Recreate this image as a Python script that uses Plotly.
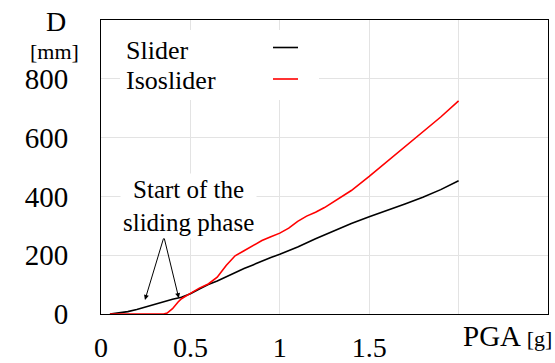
import plotly.graph_objects as go

# ---- data ----
slider_x = [0.05, 0.1, 0.15, 0.2, 0.25, 0.3, 0.35, 0.4, 0.45, 0.5, 0.55, 0.6, 0.65, 0.7,
            0.75, 0.8, 0.85, 0.9, 0.95, 1.0, 1.1, 1.2, 1.3, 1.4, 1.5, 1.6, 1.7, 1.8, 1.9, 2.0]
slider_y = [0, 3, 8, 15, 24, 33, 42, 50, 57, 69, 85, 100, 112, 127,
            142, 155, 167, 180, 192, 203, 228, 256, 283, 308, 331, 352, 374, 397, 423, 453]

iso_x = [0.05, 0.1, 0.2, 0.3, 0.35, 0.37, 0.4, 0.43, 0.45, 0.5, 0.55, 0.6, 0.65, 0.7,
         0.75, 0.8, 0.85, 0.9, 0.95, 1.0, 1.05, 1.1, 1.15, 1.2, 1.25, 1.3, 1.4, 1.5,
         1.6, 1.7, 1.8, 1.9, 2.0]
iso_y = [0, 0, 0, 0, 0, 3, 18, 40, 52, 70, 88, 102, 125, 165,
         198, 215, 233, 250, 263, 275, 292, 315, 333, 346, 362, 382, 420, 468,
         518, 570, 620, 670, 725]

x_tickvals = [0, 0.5, 1, 1.5, 2]
x_ticktext = ["0", "0.5", "1", "1.5", ""]
y_tickvals = [0, 200, 400, 600, 800, 1000]
y_ticktext = ["0", "200", "400", "600", "800", ""]

series_names = ["Slider", "Isoslider"]
series_colors = ["#000000", "#ff0000"]

FONT = "Liberation Serif"

# ---- layout geometry (pixels) ----
W, H = 555, 363
L, R, T, B = 101, 548, 20, 314


def px(xp):
    return (xp - L) / (R - L)


def py(yp):
    return (B - yp) / (B - T)


fig = go.Figure()
fig.add_trace(go.Scatter(x=slider_x, y=slider_y, mode="lines", name=series_names[0],
                         line=dict(color=series_colors[0], width=1.6), showlegend=False))
fig.add_trace(go.Scatter(x=iso_x, y=iso_y, mode="lines", name=series_names[1],
                         line=dict(color=series_colors[1], width=1.6), showlegend=False))

fig.update_layout(
    width=W, height=H,
    margin=dict(l=L, r=W - R, t=T, b=H - B, pad=0, autoexpand=False),
    paper_bgcolor="white", plot_bgcolor="white",
    font=dict(family=FONT, color="black", size=28),
    showlegend=False,
)
fig.update_xaxes(range=[0, 2.5], tickvals=x_tickvals, ticktext=x_ticktext,
                 showgrid=True, gridcolor="#e3e3e3", gridwidth=1,
                 showline=True, linecolor="black", linewidth=1, mirror=True,
                 zeroline=False, ticks="", ticklabelstandoff=8, automargin=False,
                 tickfont=dict(family=FONT, size=28, color="black"))
fig.update_yaxes(range=[0, 1000], tickvals=y_tickvals, ticktext=y_ticktext,
                 showgrid=True, gridcolor="#e3e3e3", gridwidth=1,
                 showline=True, linecolor="black", linewidth=1, mirror=True,
                 zeroline=False, ticks="", ticklabelstandoff=26, automargin=False,
                 tickfont=dict(family=FONT, size=29, color="black"))

shapes = []
# legend box (white, covers grid)
shapes.append(dict(type="rect", xref="paper", yref="paper",
                   x0=px(120), x1=px(319), y0=py(100), y1=py(30),
                   fillcolor="white", line=dict(width=0), layer="above"))
shapes.append(dict(type="line", xref="paper", yref="paper",
                   x0=px(273), x1=px(298), y0=py(47.5), y1=py(47.5),
                   line=dict(color=series_colors[0], width=1.6), layer="above"))
shapes.append(dict(type="line", xref="paper", yref="paper",
                   x0=px(273), x1=px(298), y0=py(79), y1=py(79),
                   line=dict(color=series_colors[1], width=1.6), layer="above"))
fig.update_layout(shapes=shapes)

ann = []
ann.append(dict(text=series_names[0], xref="paper", yref="paper", x=px(124), y=py(50),
                xanchor="left", yanchor="middle", showarrow=False,
                font=dict(family=FONT, size=26)))
ann.append(dict(text=series_names[1], xref="paper", yref="paper", x=px(124), y=py(80),
                xanchor="left", yanchor="middle", showarrow=False,
                font=dict(family=FONT, size=26)))
# axis titles
ann.append(dict(text="D", xref="paper", yref="paper", x=px(56), y=py(21),
                xanchor="center", yanchor="middle", showarrow=False,
                font=dict(family=FONT, size=28)))
ann.append(dict(text="[mm]", xref="paper", yref="paper", x=px(54), y=py(51),
                xanchor="center", yanchor="middle", showarrow=False,
                font=dict(family=FONT, size=22)))
ann.append(dict(text="PGA <span style='font-size:22px'>[g]</span>", xref="paper", yref="paper",
                x=px(554), y=py(336), xanchor="right", yanchor="middle", showarrow=False,
                font=dict(family=FONT, size=29)))
# sliding phase annotation
ann.append(dict(text="Start of the<br>sliding phase", xref="paper", yref="paper",
                x=px(188), y=py(206), xanchor="center", yanchor="middle", showarrow=False,
                bgcolor="white", borderpad=2,
                font=dict(family=FONT, size=25)))
ann.append(dict(text="", x=0.246, y=48, xref="x", yref="y", ax=0.352, ay=262,
                axref="x", ayref="y", showarrow=True, arrowhead=2, arrowsize=1,
                arrowwidth=1, arrowcolor="black"))
ann.append(dict(text="", x=0.435, y=54, xref="x", yref="y", ax=0.352, ay=262,
                axref="x", ayref="y", showarrow=True, arrowhead=2, arrowsize=1,
                arrowwidth=1, arrowcolor="black"))
fig.update_layout(annotations=ann)

fig.write_html("out.html")
